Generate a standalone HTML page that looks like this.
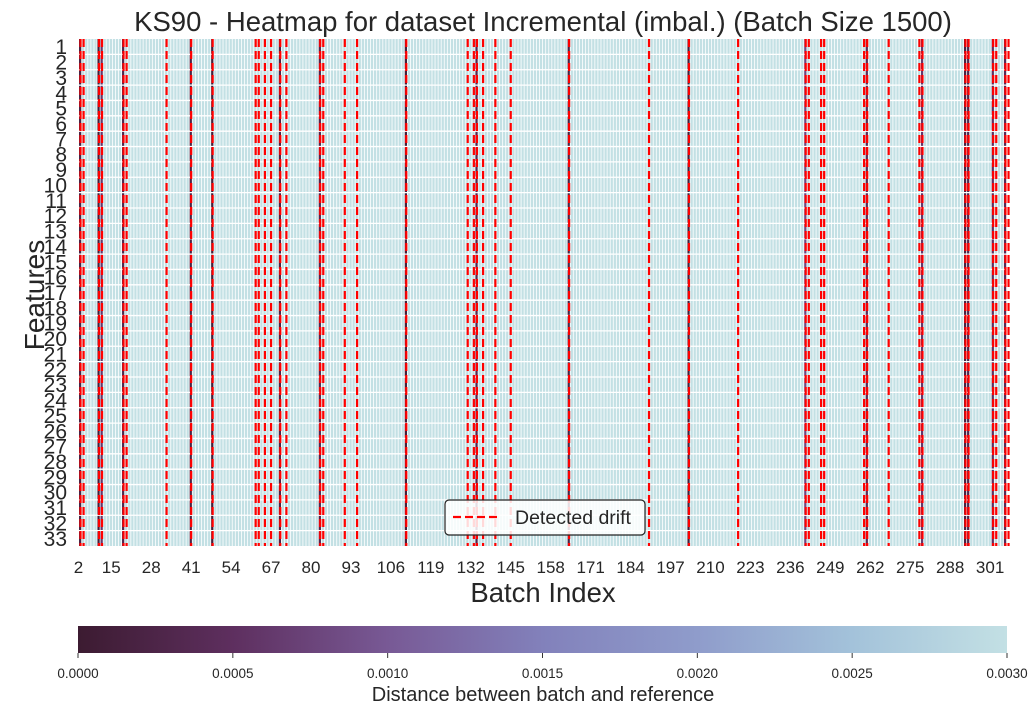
<!DOCTYPE html>
<html><head><meta charset="utf-8"><style>
html,body{margin:0;padding:0;background:#fff;}
svg text{font-family:"Liberation Sans",Arial,sans-serif;fill:#262626;}
</style></head><body>
<svg id="chart" width="1032" height="716" viewBox="0 0 1032 716" xmlns="http://www.w3.org/2000/svg">
<defs>
<linearGradient id="cmap" x1="0" x2="1" y1="0" y2="0">
<stop offset="0" stop-color="#3c1b31"/>
<stop offset="0.167" stop-color="#5e2f5f"/>
<stop offset="0.333" stop-color="#785995"/>
<stop offset="0.5" stop-color="#8281bb"/>
<stop offset="0.667" stop-color="#8f9ccb"/>
<stop offset="0.833" stop-color="#a3c2da"/>
<stop offset="1" stop-color="#c3e0e4"/>
</linearGradient>
</defs>
<text x="543" y="31" font-size="27.5" text-anchor="middle">KS90 - Heatmap for dataset Incremental (imbal.) (Batch Size 1500)</text>
<g id="cells"></g>
<g id="drift"></g>
<g id="xticks"></g>
<g id="yticks"></g>
<text x="543" y="602" font-size="27.5" text-anchor="middle">Batch Index</text>
<text x="0" y="0" font-size="28" text-anchor="middle" transform="translate(44,295) rotate(-90)">Features</text>
<g>
<rect x="445" y="500" width="200" height="35" rx="4" fill="#fff" fill-opacity="0.85" stroke="#222" stroke-width="1.2"/>
<line x1="453" y1="517" x2="497" y2="517" stroke="#ff0000" stroke-width="2.2" stroke-dasharray="8,4"/>
<text x="515" y="524" font-size="19.5">Detected drift</text>
</g>
<rect x="78" y="626" width="929" height="27" fill="url(#cmap)"/>
<g id="cbticks"></g>
<text x="543" y="701" font-size="20" text-anchor="middle">Distance between batch and reference</text>
</svg>
<script>
const firstBatch = 5;
const nCols = 302;
const features = Array.from({length:33},(_,i)=>String(i+1));
const xTickCols = [0,10,23,36,49,62,75,88,101,114,127,140,153,166,179,192,205,218,231,244,257,270,283,296];
const xTickLabels = ["2","15","28","41","54","67","80","93","106","119","132","145","158","171","184","197","210","223","236","249","262","275","288","301"];
const driftBatches = [5,6,11,12,19,20,33,41,48,62,63,65,67,70,72,83,84,91,95,111,131,133,134,136,140,145,164,190,203,219,241,242,246,247,260,261,268,278,279,293,294,302,303,306,307];
const darkBatches = [5,11,12,19,41,48,70,83,111,134,164,203,241,261,279,293,294,302,306];
const darkValues = [0.0002,0.0001,0.0006,0.0003,0.0002,0.0001,0.0002,0.0003,0.0001,0.0003,0.0002,0.0001,0.0008,0.0004,0.0006,0.0002,0.0003,0.0005,0.0004];
const cbTicks = [0,0.0005,0.001,0.0015,0.002,0.0025,0.003];
const cbLabels = ["0.0000","0.0005","0.0010","0.0015","0.0020","0.0025","0.0030"];
const defaultValue = 0.003;

const X0=79, X1=1007, Y0=39, Y1=546;
const w=(X1-X0)/nCols, h=(Y1-Y0)/features.length;
const NS="http://www.w3.org/2000/svg";
function colX(c){return X0+c*w;}
function batchX(b){return X0+(b-firstBatch+0.5)*w;}
function rowY(r){return Y0+r*h;}
const stops=[[0,[60,27,49]],[0.167,[94,47,95]],[0.333,[120,89,149]],[0.5,[130,129,187]],[0.667,[143,156,203]],[0.833,[163,194,218]],[1,[195,224,228]]];
function color(v){let t=Math.max(0,Math.min(1,v/0.003));for(let i=1;i<stops.length;i++){if(t<=stops[i][0]){const a=stops[i-1],b=stops[i];const f=(t-a[0])/(b[0]-a[0]);const c=a[1].map((x,k)=>Math.round(x+(b[1][k]-x)*f));return `rgb(${c})`;}}return "rgb(195,224,228)";}
function mk(tag,attrs,parent){const e=document.createElementNS(NS,tag);for(const k in attrs)e.setAttribute(k,attrs[k]);parent.appendChild(e);return e;}
const cells=document.getElementById('cells');
const bg=mk('rect',{x:X0,y:Y0,width:X1-X0,height:Y1-Y0,fill:'#fff'},cells);


for(let c=0;c<nCols;c++){
  const b=c+firstBatch;
  const di=darkBatches.indexOf(b);
  const v=di>=0?darkValues[di]:defaultValue;
  const r=mk('rect',{x:colX(c),y:Y0,width:w-0.8,height:Y1-Y0,fill:color(v)},cells);
  
  
}
for(let i=1;i<features.length;i++){
  const l=mk('line',{x1:X0,x2:X1,y1:rowY(i),y2:rowY(i),stroke:'#fff','stroke-width':1.3},cells);
  
  
}
const drift=document.getElementById('drift');
driftBatches.forEach(b=>{
  const x=batchX(b);
  const l=mk('line',{x1:x,x2:x,y1:Y0,y2:Y1,stroke:'#ff0000','stroke-width':2.2,'stroke-dasharray':'8,4'},drift);
  
  
});
const xt=document.getElementById('xticks');
xTickCols.forEach((c,i)=>{
  const t=mk('text',{x:X0+(c+0.5)*w-(i===0?2:0),y:573,'font-size':17,'text-anchor':'middle'},xt);
  t.textContent=xTickLabels[i];
  
  
});
const yt=document.getElementById('yticks');
features.forEach((f,i)=>{
  const t=mk('text',{x:67,y:rowY(i)+h/2+7.5,'font-size':21,'text-anchor':'end'},yt);
  t.textContent=f;
  
  
});
const cb=document.getElementById('cbticks');
cbTicks.forEach((v,i)=>{
  const x=78+v/0.003*929;
  const l=mk('line',{x1:x,x2:x,y1:653,y2:658,stroke:'#333','stroke-width':1},cb);
  
  
  const t=mk('text',{x:x,y:678,'font-size':13.5,'text-anchor':'middle'},cb);
  t.textContent=cbLabels[i];
  
  
});
</script>
</body></html>
